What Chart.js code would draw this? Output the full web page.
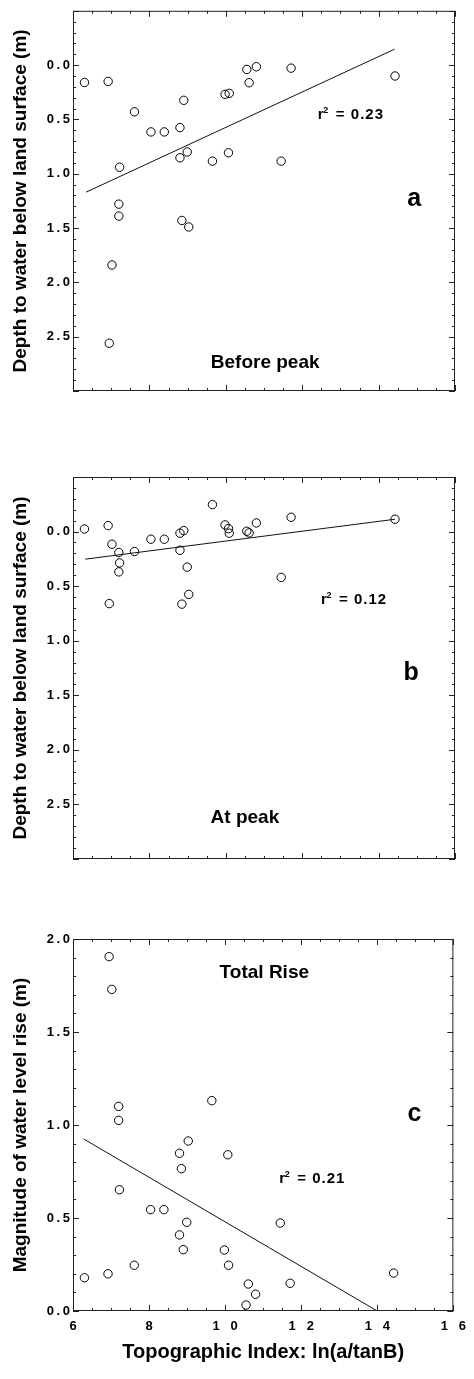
<!DOCTYPE html>
<html>
<head>
<meta charset="utf-8">
<script src="https://cdn.jsdelivr.net/npm/chart.js@4.4.0/dist/chart.umd.min.js"></script>
<style>
  html, body { margin: 0; padding: 0; background: #fff; }
  body { width: 474px; height: 1379px; position: relative; overflow: hidden; }
  .panel { position: absolute; left: 0; width: 474px; }
</style>
</head>
<body>
<div class="panel" style="top:0;height:420px"><canvas id="chartA"></canvas></div>
<div class="panel" style="top:440px;height:440px"><canvas id="chartB"></canvas></div>
<div class="panel" style="top:880px;height:499px"><canvas id="chartC"></canvas></div>
<script>
// topographic index of each well, shared by the three panels
const topoIndex   = [6.30, 6.92, 6.95, 7.02, 7.20, 7.20, 7.22, 7.61, 8.04, 8.39, 8.80, 8.80, 8.85,
                     8.90, 8.99, 9.03, 9.65, 9.98, 10.07, 10.09, 10.55, 10.61, 10.80, 11.45, 11.71, 14.43];
// depth to water before the peak (m)
const depthBefore = [0.16, 0.15, 2.56, 1.84, 1.28, 1.39, 0.94, 0.43, 0.615, 0.615, 0.853, 0.575, 1.43,
                     0.324, 0.80, 1.49, 0.884, 0.269, 0.807, 0.26, 0.04, 0.162, 0.015, 0.884, 0.028, 0.10];
// depth to water at the peak (m)
const depthPeak   = [-0.024, -0.055, 0.66, 0.116, 0.192, 0.369, 0.287, 0.183, 0.07, 0.07, 0.015, 0.171, 0.665,
                     -0.009, 0.326, 0.576, -0.247, -0.061, -0.027, 0.015, -0.003, 0.012, -0.079, 0.42, -0.131, -0.113];
// total water level rise (m)
const totalRise   = [0.179, 0.20, 1.905, 1.729, 1.10, 1.025, 0.652, 0.246, 0.545, 0.545, 0.848, 0.409, 0.765,
                     0.33, 0.477, 0.914, 1.131, 0.328, 0.84, 0.246, 0.032, 0.145, 0.09, 0.473, 0.149, 0.204];

// regression lines (end points)
const fitXA = [6.34, 14.42], fitYA = [1.17, -0.147];
const fitXB = [6.32, 14.43], fitYB = [0.253, -0.113];
const fitXC = [6.28, 14.00], fitYC = [0.925, 0.0];

const rSquared = ['0.23', '0.12', '0.21'];
const panelLetters = ['a', 'b', 'c'];
const panelTitles = ['Before peak', 'At peak', 'Total Rise'];
const xTickLabels = ['6', '8', '1   0', '1   2', '1   4', '1   6'];

Chart.defaults.color = '#000';
Chart.defaults.font.family = '"Liberation Sans", Arial, sans-serif';

const toPoints = (xs, ys) => xs.map((x, i) => ({ x: x, y: ys[i] }));
const fmtY = v => v.toFixed(1).replace('.', '\u2009.\u2009');

// frame with inward major / minor ticks on all four sides
const framePlugin = {
  id: 'frame',
  afterDatasetsDraw(chart, args, opts) {
    const { ctx, chartArea: a, scales: { x, y } } = chart;
    ctx.save();
    ctx.strokeStyle = '#222';
    ctx.lineWidth = 1;
    ctx.strokeRect(a.left + 0.5, a.top + 0.5, a.right - a.left - 1, a.bottom - a.top - 1);
    ctx.beginPath();
    for (let v = x.min; v <= x.max + 1e-9; v += 0.5) {
      const px = Math.round(x.getPixelForValue(v)) + 0.5;
      const len = Math.abs(v % 2) < 1e-6 ? 6 : 3;
      ctx.moveTo(px, a.bottom); ctx.lineTo(px, a.bottom - len);
      ctx.moveTo(px, a.top); ctx.lineTo(px, a.top + len);
    }
    for (let i = 0; ; i++) {
      const v = y.min + i * 0.1;
      if (v > y.max + 1e-9) break;
      const py = Math.round(y.getPixelForValue(v)) + 0.5;
      const len = i % 5 === 0 ? 6 : 3;
      ctx.moveTo(a.left, py); ctx.lineTo(a.left + len, py);
      ctx.moveTo(a.right, py); ctx.lineTo(a.right - len, py);
    }
    ctx.stroke();
    ctx.restore();
  },
  afterDraw(chart, args, opts) {
    const { ctx, scales: { x, y } } = chart;
    ctx.save();
    ctx.fillStyle = '#000';
    ctx.textBaseline = 'alphabetic';
    // r squared
    let rx = x.getPixelForValue(opts.rPos[0]), ry = y.getPixelForValue(opts.rPos[1]);
    ctx.textAlign = 'left';
    ctx.font = 'bold 15px "Liberation Sans", Arial, sans-serif';
    ctx.fillText('r', rx, ry);
    ctx.font = 'bold 9px "Liberation Sans", Arial, sans-serif';
    ctx.fillText('2', rx + 5.5, ry - 6);
    ctx.font = 'bold 15px "Liberation Sans", Arial, sans-serif';
    ctx.fillText('=', rx + 18, ry);
    ctx.letterSpacing = '1px';
    ctx.fillText(opts.r2, rx + 33, ry);
    ctx.letterSpacing = '0px';
    // panel letter
    ctx.textAlign = 'center';
    ctx.font = 'bold 25px "Liberation Sans", Arial, sans-serif';
    ctx.fillText(opts.letter, x.getPixelForValue(opts.letterPos[0]), y.getPixelForValue(opts.letterPos[1]));
    // panel title
    ctx.font = 'bold 19px "Liberation Sans", Arial, sans-serif';
    ctx.fillText(opts.title, x.getPixelForValue(opts.titlePos[0]), y.getPixelForValue(opts.titlePos[1]));
    ctx.restore();
  }
};

function makeChart(id, cfg) {
  const yIsDepth = cfg.depth;
  new Chart(document.getElementById(id), {
    type: 'scatter',
    data: {
      datasets: [
        {
          data: toPoints(topoIndex, cfg.values),
          pointStyle: 'circle',
          pointRadius: 4.2,
          pointBorderWidth: 1,
          pointBorderColor: '#000',
          pointBackgroundColor: 'rgba(0,0,0,0)',
          showLine: false
        },
        {
          data: toPoints(cfg.fitX, cfg.fitY),
          showLine: true,
          borderColor: '#111',
          borderWidth: 1,
          pointRadius: 0
        }
      ]
    },
    options: {
      responsive: true,
      maintainAspectRatio: false,
      animation: false,
      events: [],
      layout: { padding: { top: cfg.top, right: 19, left: 0, bottom: 0 } },
      plugins: {
        legend: { display: false },
        tooltip: { enabled: false },
        frame: cfg.notes
      },
      scales: {
        x: {
          type: 'linear',
          min: 6,
          max: 16,
          grid: { display: false, drawTicks: false },
          border: { display: false },
          ticks: {
            display: cfg.showX,
            stepSize: 2,
            autoSkip: false,
            maxRotation: 0,
            padding: 8,
            font: { size: 13, weight: 'bold' },
            callback: v => xTickLabels[Math.round((v - 6) / 2)]
          },
          title: {
            display: cfg.showX,
            text: 'Topographic Index: ln(a/tanB)',
            font: { size: 20, weight: 'bold', lineHeight: 1 },
            padding: { top: 0, bottom: 17 }
          },
          afterFit: s => { s.height = cfg.xHeight; }
        },
        y: {
          type: 'linear',
          min: yIsDepth ? -0.5 : 0,
          max: yIsDepth ? 3.0 : 2.0,
          reverse: yIsDepth,
          grid: { display: false, drawTicks: false },
          border: { display: false },
          ticks: {
            stepSize: 0.5,
            autoSkip: false,
            padding: 3,
            font: { size: 13, weight: 'bold' },
            callback: v => {
              if (yIsDepth && (v < -1e-9 || v > 2.5 + 1e-9)) return '';
              return fmtY(Math.abs(v) < 1e-9 ? 0 : v);
            }
          },
          title: {
            display: true,
            text: cfg.yTitle,
            font: { size: 19, weight: 'bold', lineHeight: 1 },
            padding: { top: 11.5, bottom: 0 }
          },
          afterFit: s => { s.width = 73; }
        }
      }
    },
    plugins: [framePlugin]
  });
}

makeChart('chartA', {
  depth: true, values: depthBefore, fitX: fitXA, fitY: fitYA,
  top: 10, xHeight: 29, showX: false,
  yTitle: 'Depth to water below land surface (m)',
  notes: { r2: rSquared[0], rPos: [12.41, 0.50], letter: panelLetters[0], letterPos: [14.93, 1.30],
           title: panelTitles[0], titlePos: [11.03, 2.79] }
});
makeChart('chartB', {
  depth: true, values: depthPeak, fitX: fitXB, fitY: fitYB,
  top: 37, xHeight: 21, showX: false,
  yTitle: 'Depth to water below land surface (m)',
  notes: { r2: rSquared[1], rPos: [12.49, 0.66], letter: panelLetters[1], letterPos: [14.85, 1.36],
           title: panelTitles[1], titlePos: [10.5, 2.67] }
});
makeChart('chartC', {
  depth: false, values: totalRise, fitX: fitXC, fitY: fitYC,
  top: 59, xHeight: 68, showX: true,
  yTitle: 'Magnitude of water level rise (m)',
  notes: { r2: rSquared[2], rPos: [11.42, 0.688], letter: panelLetters[2], letterPos: [14.98, 1.02],
           title: panelTitles[2], titlePos: [11.03, 1.79] }
});
</script>
</body>
</html>
